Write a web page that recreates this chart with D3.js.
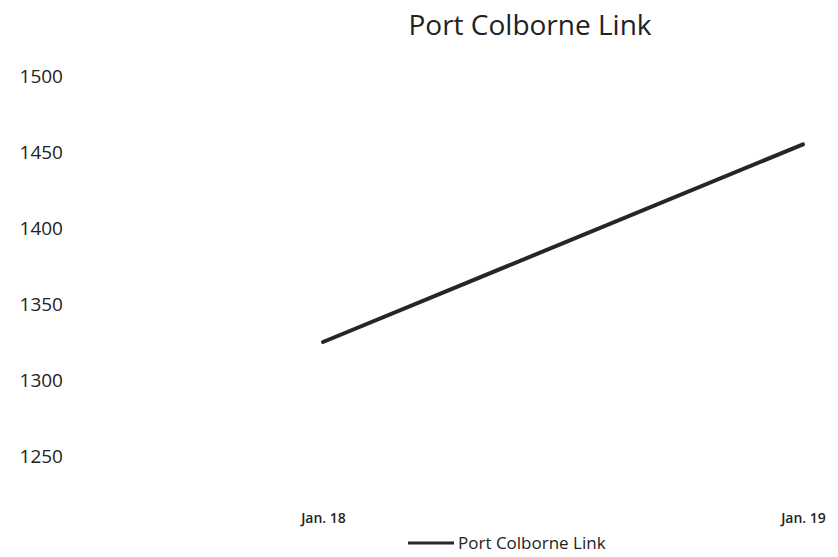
<!DOCTYPE html>
<html lang="en">
  <head>
    <meta charset="utf-8"/>
    <script src="https://d3js.org/d3.v7.min.js"></script>
    <style>
      body { margin: 0; background: #fff; }
      text { font-family: "Open Sans", sans-serif; fill: #222; }
    </style>
  </head>
  <body>
    <svg class="chart" width="838" height="557"></svg>
  </body>
  <script>
    const seriesName = "Port Colborne Link";
    const categories = ["Jan. 18", "Jan. 19"];
    const values = [1325, 1455];
    const yTicks = [1250, 1300, 1350, 1400, 1450, 1500];

    const svg = d3.select(".chart");

    const x = d3.scalePoint()
      .domain(categories)
      .range([323, 803]);

    const y = d3.scaleLinear()
      .domain([1250, 1500])
      .range([456, 76]);

    // title
    svg.append("text")
      .attr("x", 530)
      .attr("y", 35)
      .attr("text-anchor", "middle")
      .style("font-size", "28px")
      .text(seriesName);

    // y axis (labels only)
    const yAxis = d3.axisLeft(y)
      .tickValues(yTicks)
      .tickFormat(d3.format("d"))
      .tickSize(0)
      .tickPadding(0);
    const gy = svg.append("g")
      .attr("transform", "translate(63,0)")
      .call(yAxis);
    gy.select(".domain").remove();
    gy.selectAll("text")
      .style("font-size", "19px")
      .style("font-family", "'Open Sans', sans-serif")
      .attr("fill", "#222");

    // x axis (labels only)
    const xAxis = d3.axisBottom(x).tickSize(0).tickPadding(0);
    const gx = svg.append("g")
      .attr("transform", "translate(0,513)")
      .call(xAxis);
    gx.select(".domain").remove();
    gx.selectAll("text")
      .style("font-size", "14px")
      .style("font-weight", "600")
      .style("font-family", "'Open Sans', sans-serif")
      .attr("fill", "#222");

    // line
    const line = d3.line()
      .x(function(d, i) { return x(categories[i]); })
      .y(function(d) { return y(d); });

    svg.append("path")
      .datum(values)
      .attr("fill", "none")
      .attr("stroke", "#262626")
      .attr("stroke-width", 4)
      .attr("stroke-linecap", "round")
      .attr("d", line);

    // legend
    const legend = svg.append("g").attr("transform", "translate(408,543)");
    legend.append("line")
      .attr("x1", 0).attr("x2", 46)
      .attr("y1", 0).attr("y2", 0)
      .attr("stroke", "#262626")
      .attr("stroke-width", 3);
    legend.append("text")
      .attr("x", 50)
      .attr("y", 6)
      .style("font-size", "17px")
      .text(seriesName);
  </script>
</html>
